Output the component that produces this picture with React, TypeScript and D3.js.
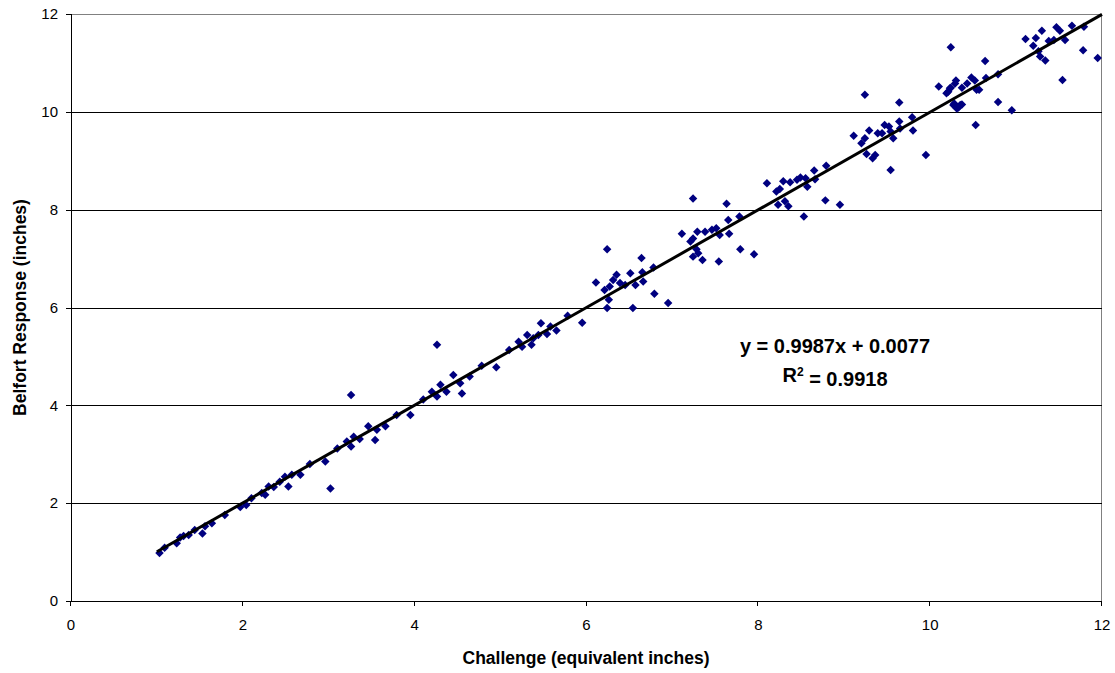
import React from "react";
import * as d3 from "d3";

// Challenge (equivalent inches) for each test
const challenge: number[] = [
  1.03, 1.09, 1.23, 1.27, 1.31, 1.37, 1.44, 1.53, 1.56, 1.64, 1.79, 1.97, 2.04, 2.10, 2.22, 2.26,
  2.30, 2.36, 2.43, 2.53, 2.49, 2.57, 2.67, 2.78, 2.96, 3.02,
  3.10, 3.21, 3.26, 3.29, 3.26, 3.36, 3.46, 3.54, 3.56, 3.66, 3.79, 3.95, 4.10, 4.20, 4.26, 4.30,
  4.37, 4.45, 4.53, 4.55, 4.64, 4.78, 4.95, 4.26,
  5.10, 5.21, 5.25, 5.31, 5.36, 5.38, 5.44, 5.47, 5.54, 5.58, 5.65, 5.78, 5.95, 6.11, 6.21, 6.24,
  6.26, 6.24, 6.27, 6.31, 6.35, 6.39, 6.45, 6.51, 6.54, 6.57, 6.64, 6.65, 6.66, 6.78, 6.79, 6.95,
  7.11, 7.24, 7.21, 7.24, 7.29, 7.28, 7.24, 7.30, 7.35, 7.38, 7.46, 7.51, 7.55, 7.54, 7.63, 7.65,
  7.66, 7.78, 7.79, 7.95, 8.10, 8.21, 8.23, 8.25, 8.29, 8.31, 8.35, 8.37, 8.45, 8.49, 8.55, 8.57,
  8.53, 8.65, 8.66, 8.79, 8.78, 8.95,
  9.24, 9.11, 9.20, 9.24, 9.29, 9.26, 9.33, 9.36, 9.39, 9.44, 9.47, 9.52, 9.54, 9.57, 9.54, 9.64,
  9.65, 9.64, 9.79, 9.80, 9.95, 10.10, 10.19, 10.23, 10.27, 10.29, 10.31, 10.35, 10.43, 10.53, 10.54,
  10.24, 10.21, 10.24, 10.28, 10.33, 10.37, 10.30, 10.37, 10.48, 10.52, 10.57, 10.64, 10.65, 10.79,
  10.79, 10.95, 11.11, 11.20, 11.23, 11.26, 11.28, 11.34, 11.30, 11.38, 11.44, 11.47, 11.51, 11.57,
  11.54, 11.65, 11.79, 11.78, 11.95,
];

// Belfort response (inches) for each test, same order
const response: number[] = [
  0.98, 1.09, 1.18, 1.30, 1.33, 1.35, 1.45, 1.38, 1.53, 1.59, 1.76, 1.92, 1.96, 2.10, 2.21, 2.17,
  2.34, 2.33, 2.44, 2.34, 2.54, 2.58, 2.58, 2.80, 2.85, 2.30,
  3.12, 3.26, 3.16, 3.36, 4.21, 3.31, 3.57, 3.29, 3.50, 3.57, 3.80, 3.80, 4.12, 4.28, 4.18, 4.42,
  4.28, 4.62, 4.45, 4.24, 4.59, 4.81, 4.78, 5.24,
  5.13, 5.30, 5.20, 5.44, 5.24, 5.37, 5.44, 5.68, 5.46, 5.61, 5.53, 5.83, 5.69, 6.51, 6.36, 7.19,
  6.16, 5.99, 6.43, 6.56, 6.67, 6.50, 6.46, 6.70, 5.99, 6.46, 7.01, 6.72, 6.53, 6.82, 6.28, 6.09,
  7.51, 8.23, 7.35, 7.41, 7.55, 7.19, 7.04, 7.11, 6.97, 7.55, 7.59, 7.62, 7.48, 6.94, 8.12, 7.79,
  7.51, 7.86, 7.19, 7.09, 8.54, 8.37, 8.10, 8.42, 8.58, 8.17, 8.07, 8.56, 8.61, 8.66, 8.64, 8.47,
  7.86, 8.80, 8.62, 8.90, 8.19, 8.10,
  10.35, 9.51, 9.36, 9.46, 9.62, 9.14, 9.05, 9.12, 9.56, 9.56, 9.73, 9.70, 9.60, 9.46, 8.81, 9.80,
  9.66, 10.19, 9.89, 9.62, 9.12, 10.52, 10.38, 10.48, 10.14, 10.58, 10.07, 10.14, 10.58, 9.73, 10.45,
  11.32, 10.41, 10.49, 10.17, 10.09, 10.15, 10.64, 10.49, 10.70, 10.64, 10.45, 11.04, 10.69, 10.77,
  10.20, 10.03, 11.49, 11.35, 11.51, 11.24, 11.13, 11.05, 11.66, 11.45, 11.47, 11.73, 11.66, 11.47,
  10.65, 11.76, 11.74, 11.26, 11.10,
];

const axisTicks: number[] = [0, 2, 4, 6, 8, 10, 12];

// Linear trendline fitted to the data
const slope = 0.9987;
const intercept = 0.0077;
const rSquared = "0.9918";
const trendRange: [number, number] = [1.0, 12];

const W = 1115;
const H = 673;
const left = 71;
const right = 1102;
const top = 14;
const bottom = 601;

export default function App() {
  const x = d3.scaleLinear().domain([0, 12]).range([left, right]);
  const y = d3.scaleLinear().domain([0, 12]).range([bottom, top]);
  const font = "'Liberation Sans', Arial, sans-serif";

  const diamond = d3.symbol().type(d3.symbolDiamond2).size(46)();
  const points = challenge.map((c, i) => [c, response[i]] as [number, number]);

  const trend = d3
    .line<number>()
    .x((v) => x(v))
    .y((v) => y(slope * v + intercept))(trendRange);

  const crisp = (v: number) => Math.round(v) + 0.5;

  return (
    <svg
      width={W}
      height={H}
      style={{ position: "absolute", left: 0, top: 0, background: "#fff" }}
      fontFamily={font}
    >
      {/* plot area border */}
      <rect
        x={left + 0.5}
        y={crisp(top)}
        width={right - left - 1}
        height={bottom - top}
        fill="#fff"
        stroke="#808080"
        strokeWidth={1}
      />
      {/* horizontal gridlines */}
      {axisTicks
        .filter((t) => t > 0 && t < 12)
        .map((t) => (
          <line
            key={"g" + t}
            x1={left}
            x2={right}
            y1={crisp(y(t))}
            y2={crisp(y(t))}
            stroke="#000"
            strokeWidth={1}
          />
        ))}
      {/* axes */}
      <line x1={left + 0.5} x2={left + 0.5} y1={top} y2={bottom + 0.5} stroke="#000" />
      <line x1={left} x2={right} y1={bottom + 0.5} y2={bottom + 0.5} stroke="#000" />
      {axisTicks.map((t) => (
        <g key={"t" + t}>
          <line x1={left - 5} x2={left} y1={crisp(y(t))} y2={crisp(y(t))} stroke="#000" />
          <text
            x={left - 13}
            y={y(t)}
            dy="0.35em"
            textAnchor="end"
            fontSize={15}
            fill="#000"
          >
            {t}
          </text>
          <line
            x1={crisp(x(t)) - 1}
            x2={crisp(x(t)) - 1}
            y1={bottom}
            y2={bottom + 5}
            stroke="#000"
          />
          <text x={x(t)} y={bottom + 24} dy="0.35em" textAnchor="middle" fontSize={15} fill="#000">
            {t}
          </text>
        </g>
      ))}
      {/* data points */}
      {points.map(([c, r], i) => (
        <path key={i} d={diamond ?? ""} transform={`translate(${x(c)},${y(r)})`} fill="#000080" />
      ))}
      {/* trendline */}
      <path d={trend ?? ""} fill="none" stroke="#000" strokeWidth={3} />
      {/* equation */}
      <text x={835} y={345.5} dy="0.35em" textAnchor="middle" fontSize={20} fontWeight="bold">
        {`y = ${slope}x + ${intercept}`}
      </text>
      <text x={835} y={375} dy="0.35em" textAnchor="middle" fontSize={20} fontWeight="bold">
        R<tspan dy="-0.5em" fontSize={12}>2</tspan>
        <tspan dy="0.5em">{` = ${rSquared}`}</tspan>
      </text>
      {/* axis titles */}
      <text
        x={586}
        y={658}
        dy="0.35em"
        textAnchor="middle"
        fontSize={17.5}
        fontWeight="bold"
      >
        Challenge (equivalent inches)
      </text>
      <text
        transform={`translate(20,${(top + bottom) / 2}) rotate(-90)`}
        dy="0.35em"
        textAnchor="middle"
        fontSize={17.5}
        fontWeight="bold"
      >
        Belfort Response (inches)
      </text>
    </svg>
  );
}
